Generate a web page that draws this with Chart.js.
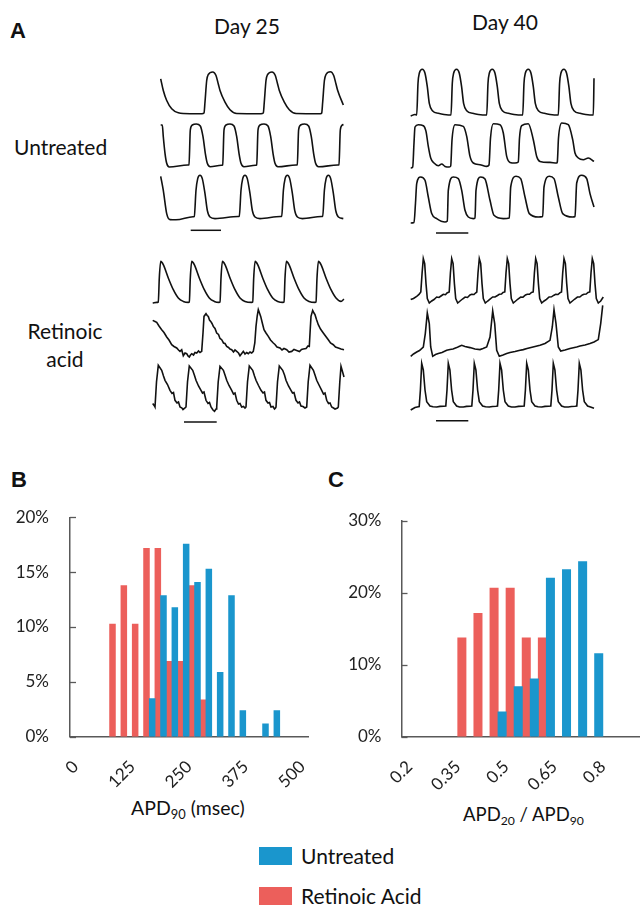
<!DOCTYPE html>
<html>
<head>
<meta charset="utf-8">
<script src="https://cdn.jsdelivr.net/npm/chart.js@4.4.1/dist/chart.umd.min.js"></script>
<style>
  body { margin: 0; width: 640px; height: 905px; overflow: hidden; position: relative; background: #fff; font-family: Lato, sans-serif; color: #111; }
  canvas { position: absolute; }
  .t { position: absolute; white-space: nowrap; line-height: 1; font-size: 21px; }
  .panel { position: absolute; line-height: 1; font-family: "Liberation Sans", Arial, sans-serif; font-weight: bold; font-size: 22px; }
  .sub { font-size: 0.66em; position: relative; top: 4px; }
  .sw { position: absolute; width: 33px; height: 18px; }
</style>
</head>
<body>
<div class="panel" style="left:10px;top:20px">A</div>
<div class="t" style="left:214px;top:15px">Day 25</div>
<div class="t" style="left:472px;top:11px">Day 40</div>
<div class="t" style="left:14px;top:136px">Untreated</div>
<div class="t" style="left:15px;top:317px;width:100px;text-align:center;line-height:27.6px">Retinoic<br>acid</div>

<div class="panel" style="left:11px;top:469px">B</div>
<div class="panel" style="left:328px;top:469px">C</div>
<div class="t" style="left:131px;top:798px;font-size:19.5px">APD<span class="sub">90</span> (msec)</div>
<div class="t" style="left:463px;top:805px;font-size:18.5px">APD<span class="sub">20</span> / APD<span class="sub">90</span></div>

<div class="sw" style="left:259px;top:847px;background:#1a96cd"></div>
<div class="t" style="left:301px;top:845px">Untreated</div>
<div class="sw" style="left:259px;top:887px;background:#ec5f5b"></div>
<div class="t" style="left:301px;top:885px">Retinoic Acid</div>

<script>
const blue = "#1a96cd";
const red = "#ec5f5b";

// panel B: APD90 histogram, 25 ms bins, % of cells
const binsB = ["0", "25", "50", "75", "100", "125", "150", "175", "200", "225", "250",
  "275", "300", "325", "350", "375", "400", "425", "450", "475", "500"];
const untreatedB = [0, 0, 0, 0, 0, 0, 0, 3.5, 12.9, 11.8, 17.6, 14.1, 15.3, 5.9, 12.9, 2.4, 0, 1.2, 2.4, 0, 0];
const retinoicB = [0, 0, 0, 10.3, 13.8, 10.3, 17.2, 17.2, 6.9, 6.9, 13.8, 3.4, 0, 0, 0, 0, 0, 0, 0, 0, 0];

// panel C: APD20 / APD90 histogram
const binsC = ["0.2", "0.25", "0.3", "0.35", "0.4", "0.45", "0.5", "0.55", "0.6", "0.65", "0.7", "0.75", "0.8", "0.85", "0.9"];
const untreatedC = [0, 0, 0, 0, 0, 0, 3.5, 7.0, 8.1, 22.1, 23.3, 24.4, 11.6, 0, 0];
const retinoicC = [0, 0, 0, 13.8, 17.2, 20.7, 20.7, 13.8, 13.8, 0, 0, 0, 0, 0, 0];

// panel A: voltage traces, [time, amplitude]
const d25u1 = [[10.7,35.2],[13.3,23.5],[16.7,13.5],[21.7,5.2],[28.3,1.2],[40,0.3],[52,0.3],[54,1],[55,12],[56.7,33.5],[58.3,39.5],[62.7,42],[66,38.5],[68.3,30],[70,23.5],[75,11.8],[80,4.2],[86.7,0.5],[111,0.3],[113.3,1],[114.3,12],[116,33.5],[117.6,39.5],[122,42],[125.3,38.5],[127.6,30],[129.3,23.5],[134.3,11.8],[139.3,4.2],[146,0.5],[170.5,0.3],[171.7,1],[172.7,12],[174.4,33.5],[176,39.5],[180.4,42.3],[183.7,38.5],[186,30],[187.7,23.5],[193.3,9]];
const d25u2 = [[10.7,42],[12.3,42],[13.3,30.3],[15,13.7],[16.7,3.7],[19.3,0],[37.7,2],[39,2.2],[40.3,37],[42.3,42],[46.3,43],[50.3,41],[53,30.3],[55.3,13.7],[57.3,3.7],[60.3,0.3],[71.3,1.8],[72.7,2.2],[74,37],[76,42],[80,43],[84,41],[86.7,30.3],[89,13.7],[91,3.7],[94,0.3],[105.3,1.8],[106.7,2.2],[108,37],[110,42],[114,43],[118,41],[120.7,30.3],[123,13.7],[125,3.7],[128,0.3],[146,2],[147.3,2.2],[148.6,37],[150.6,42],[154.6,43],[158.6,41],[161.3,30.3],[163.6,13.7],[165.6,3.7],[168.6,0.3],[187.6,2],[189,2.2],[190.3,37],[192.3,42],[193.5,42.5]];
const d25u3 = [[10.7,44.7],[13.3,30.7],[16.7,7.4],[20,1.4],[26,1.2],[43,4.3],[44.3,4.7],[46,30.7],[47.7,42.4],[50,45.7],[52.3,42.4],[55,27.4],[57.3,10.7],[60,4],[65,2.4],[88,4.5],[89.3,4.7],[91,30.7],[92.7,42.4],[95,45.7],[97.3,42.4],[100,27.4],[102.3,10.7],[105,4],[110,2.4],[130.4,4.5],[131.7,4.7],[133.4,30.7],[135.1,42.4],[137.4,45.7],[139.7,42.4],[142.4,27.4],[144.7,10.7],[147.4,4],[152.4,2.4],[171.4,4.5],[172.7,4.7],[174.4,30.7],[176.1,42.4],[178.4,45.7],[180.7,42.4],[183.4,27.4],[185.7,10.7],[188.4,4],[193.3,2.4]];

const d40u1 = [[5.7,0],[10,1.5],[11.7,1],[13,32.7],[14.3,42.7],[17.3,46.7],[20,42.7],[22.3,29.3],[24.3,12.7],[27.7,5],[33.3,2.7],[43.3,1],[46,1],[47.3,32.7],[48.6,42.7],[51.6,46.7],[54.3,42.7],[56.6,29.3],[58.6,12.7],[62,5],[67.6,2.7],[77.6,1],[81.7,1],[83,32.7],[84.3,42.7],[87.3,46.7],[90,42.7],[92.3,29.3],[94.3,12.7],[97.7,5],[103.3,2.7],[113.3,1],[117.7,1],[119,32.7],[120.3,42.7],[123.3,46.7],[126,42.7],[128.3,29.3],[130.3,12.7],[133.7,5],[139.3,2.7],[149.3,1],[153.3,1],[154.6,32.7],[155.9,42.7],[158.9,46.7],[161.6,42.7],[163.9,29.3],[165.9,12.7],[169.3,5],[174.9,2.7],[184.9,1],[188.3,1],[189,37.7]];
const d40u2 = [[5.7,0],[7.7,1],[9,25],[10,41],[13.3,43.3],[18.3,42.3],[21,36.6],[23.3,21.6],[25.7,10],[29,5],[33.3,2.3],[36.7,4],[40,1.6],[44.3,1],[45.7,2],[47,28],[50,43.3],[58.3,41.6],[61.7,31.6],[65,11.6],[68.3,5],[75,3.3],[81.7,1.6],[84,3],[85.5,30],[88.3,44.3],[95,43.3],[98.3,35],[101.7,11.6],[105,5.6],[110,5],[113.3,6],[114.5,30],[116.7,42.3],[123.3,44.3],[128.3,28.3],[131.7,11.6],[135,6.6],[145,5.6],[151.7,5],[152.3,6],[153.5,30],[156.7,45],[163.3,43.3],[167.7,28.3],[170,15],[173.3,10],[178.3,8.3],[183.3,10],[189,6.6]];
const d40u3 = [[5.7,0],[9,0.5],[10.5,20],[11.7,39.4],[15.7,46],[20,42.7],[23.3,26],[26.7,9.4],[31.7,4.4],[40,1],[42.3,2],[43.3,32.7],[48.3,46],[53.3,44.4],[56.7,32.7],[60,12.7],[63.3,6],[68.3,4.4],[70,5],[71,32.7],[75.7,46],[80,44],[85,22.7],[89,7.7],[98.3,4.4],[104.3,5],[105.7,36],[111,46.7],[115.7,44.4],[120,26],[124.3,9.4],[133.3,6],[137.7,6.5],[139,36],[144.3,46.7],[149,44.4],[153.3,26],[157.7,9.4],[167.7,6],[170,6.5],[171.7,40],[176.7,47.7],[181.7,44.4],[185,29.4],[189,16]];

const d25r1 = [[2.7,0],[6.7,0.6],[8.3,1],[9.3,25],[10.7,41.6],[13.3,38.3],[18.3,25],[23.3,13.3],[28.3,5],[33.3,1.6],[38.3,0.6],[39.3,1],[40.3,25],[41.7,41.6],[44.3,38.3],[49.3,25],[54.3,13.3],[59.3,5],[64.3,1.6],[69,0.6],[70,1],[71,25],[72.4,41.6],[75,38.3],[80,25],[85,13.3],[90,5],[95,1.6],[101.7,0.6],[102.7,1],[103.7,25],[105.1,41.6],[107.7,38.3],[112.7,25],[117.7,13.3],[122.7,5],[127.7,1.6],[133,0.6],[134,1],[135,25],[136.4,41.6],[139,38.3],[144,25],[149,13.3],[154,5],[159,1.6],[165,0.6],[166,1],[167,25],[168.4,41.6],[171,38.3],[176,25],[181,13.3],[186,5],[191,1.6],[194,4]];
const d25r2 = [[2.7,37.6],[5,36.5],[6.7,35.6],[9,32],[11.7,28.3],[14,25.5],[16.7,21],[19,18],[21.7,13.3],[24,11.5],[26.7,10],[28.5,8],[30,6.6],[31.7,8.3],[33.3,2.3],[35,5],[36.7,4.3],[38,2],[39.3,1],[40.5,3],[41.7,4.3],[43.5,3],[45,5.5],[46.7,5],[48.5,7],[50,5.5],[51.7,6.6],[53,25],[54,41.6],[56,44.3],[57.2,42.5],[58.3,41.6],[59.5,38],[60.7,36.6],[62,34.5],[63.3,31.6],[65,29.5],[66.7,25],[68.5,23.5],[70,19.5],[71.7,18.3],[73.5,15],[75,14.5],[76.7,11.6],[78.5,10.5],[80,9],[81.7,8.3],[83.5,6],[85,8],[86.7,6.6],[88.5,5],[90,2.3],[91.7,4.5],[93.3,6.6],[95,4],[96.7,5.5],[98.3,4.3],[100,6],[101.7,5],[103.3,6.6],[104.8,15],[106,31.6],[107.2,42],[108.3,48.3],[109.5,45],[110.7,41.6],[112.3,35],[114,28.3],[116,25],[118.3,21.6],[120.5,18],[123.3,15],[125,13.5],[127,11],[130,10],[132,8],[134,9.5],[136.7,8.3],[139,6],[141.7,6.6],[144,8.5],[146.7,7.6],[149.5,6.5],[151.5,8.5],[153.3,9],[156,9.5],[158,12],[159.3,11.6],[160.2,28],[161,41.6],[162.7,47.6],[164,45],[165,43.3],[166.5,38.5],[168.3,33.3],[170.5,29],[173.3,25],[175.5,22],[178.3,18.3],[180.5,15],[183.3,13.3],[185.5,11],[188.3,10],[191,9],[194,8.3]];
const d25r3 = [[2.7,8.4],[4.5,6],[5,5],[6.5,30],[8.3,46.7],[11.7,41.7],[13.5,36],[15,31.7],[17.5,27.5],[20,21.7],[22,18.5],[23.5,19.5],[25,11.7],[27,9],[28.5,10],[30,5],[32,4],[33,2.5],[35,4],[36,5],[37.5,30],[39.3,46],[42.7,41.7],[44.5,36.5],[46,31.7],[48.5,26],[51,21.7],[52.5,19],[54,20],[56,11.7],[58,8.5],[59.5,9.5],[61,5],[63,2],[64.5,0.7],[66,3],[66.7,5],[68.2,30],[70,45.7],[73.4,41.7],[75,37],[76.7,31.7],[79,26.5],[81.7,21.7],[83.5,18],[85,19],[86.7,11.7],[88.5,8],[90,8.5],[91.7,5],[93.5,5.5],[95,4],[96,5],[97.5,30],[99.3,46],[102.7,41.7],[104.5,36],[106,31.7],[108.5,26.5],[111,21.7],[113,19],[114.5,20],[116,11.7],[118,9],[119.5,9.5],[121,5],[123,5.5],[124.5,3],[125.5,4],[126,5],[127.5,30],[129.3,46],[132.7,41.7],[134.5,37],[136,31.7],[138.5,26],[141,21.7],[142.5,19],[144,19.5],[146,11.7],[148,9],[149.5,10],[151,6],[153,5.5],[155,4],[156.7,5],[158.2,30],[160,46.7],[163.4,41.7],[165,37],[166.7,31.7],[169,27],[171.7,21.7],[173.5,18],[175,19],[176.7,11.7],[178.5,8.5],[180,9],[181.7,5],[183.5,4],[185,3],[187.5,4],[188.3,5],[189.8,30],[191,45.7],[194,35]];

const d40r1 = [[5.7,3.4],[8.5,4.5],[11.7,6.7],[14,8.5],[15.8,11],[17.1,30],[18.3,44.4],[19.7,39.4],[21,19.4],[22.3,4.4],[24.3,0],[26.7,2],[29,3.5],[31.7,6],[34,5.5],[36.7,7.5],[38.3,8.7],[40.5,8.3],[42,10],[44.2,11],[45.4,30],[46.7,44.4],[48.1,39.4],[49.4,19.4],[50.7,4.4],[52.7,0],[55.1,2],[57.5,4],[60.1,6],[62.5,5.5],[65,8],[66.7,8.7],[69,8.5],[70.5,10],[71.8,11],[73,30],[74.3,44.4],[75.7,39.4],[77,19.4],[78.3,4.4],[80.3,0],[82.7,2],[85,3.8],[87.7,6],[90,6],[92.5,7.5],[94.3,8.7],[96.5,9],[98,10.5],[99.8,11],[101,30],[102.3,44.4],[103.7,39.4],[105,19.4],[106.3,4.4],[108.3,0],[110.7,2],[113,4],[115.7,6],[118,5.8],[120.5,8],[122.3,8.7],[124.5,8.7],[126.5,10.5],[128.2,11],[129.4,30],[130.7,44.4],[132.1,39.4],[133.4,19.4],[134.7,4.4],[136.7,0],[139.1,2],[141.5,3.6],[144.1,6],[146.5,6.2],[149,7.8],[150.7,8.7],[153,8.5],[154.8,10.2],[156.5,11],[157.7,30],[159,44.4],[160.4,39.4],[161.7,19.4],[163,4.4],[165,0],[167.4,2],[169.8,4],[172.4,6],[174.8,6],[177.3,8],[179,8.7],[181.2,9],[183,10.5],[184.8,11],[186,30],[187.3,44.4],[188.7,39.4],[190,19.4],[191.3,4.4],[193.3,0],[195.7,2],[198.3,6]];
const d40r2 = [[5.7,0.7],[8.5,3],[11.7,5],[14.5,6.5],[18.3,10],[20.3,23.4],[22.3,44],[24.3,33.4],[25.7,10],[27.7,0.7],[30.5,2.5],[33.3,3.4],[37,4.5],[41.7,6.7],[45,7.5],[48,8],[51.7,9.4],[54,10.5],[56.7,11.7],[60,10.5],[65,9.4],[70,8],[75,7.4],[78,8.5],[81.7,10],[85,20],[87.7,46],[89.7,33.4],[91.7,6.7],[94.3,0.7],[98,2],[101.7,3.4],[105,4.5],[110,5.5],[114,6.5],[118.3,7.4],[122,8.5],[126,9.5],[130,10.5],[135,11.7],[140,13.5],[145,16.7],[147.3,30],[149,47.4],[151,33.4],[153.3,10],[155.7,6],[160,7],[165,8.5],[171.7,10],[175,11],[180,12],[185,13.4],[189,15],[193.3,17.4],[195.7,33.4],[197.7,51.7]];
const d40r3 = [[5.7,0],[10,2.5],[13.3,3.3],[14.2,3.5],[15.4,20],[16.7,46.7],[18.3,40],[20,20],[21.7,8.3],[25,4],[28,3.2],[31.7,3],[35,3.6],[38.7,3.8],[40.8,4],[42,20],[43.3,46.7],[44.9,40],[46.6,20],[48.3,8.3],[51.6,4],[54.5,3],[58.3,3],[61.5,3.6],[65,3.8],[66.8,4],[68,20],[69.3,46.7],[70.9,40],[72.6,20],[74.3,8.3],[77.6,4],[80.5,3.2],[84.3,3],[87.5,3.5],[91,3.8],[92.5,4],[93.7,20],[95,46.7],[96.6,40],[98.3,20],[100,8.3],[103.3,4],[106.5,3],[110,3],[113.5,3.6],[117,3.8],[119.2,4],[120.4,20],[121.7,46.7],[123.3,40],[125,20],[126.7,8.3],[130,4],[133,3.2],[136.7,3],[140,3.6],[143.5,3.8],[145.8,4],[147,20],[148.3,46.7],[149.9,40],[151.6,20],[153.3,8.3],[156.6,4],[159.5,3],[163.3,3],[166.5,3.5],[170,3.8],[171.8,4],[173,20],[174.3,46.7],[175.9,40],[177.6,20],[179.3,8.3],[182.6,4],[185.5,3],[189,1.7]];

// 1 s scale bars under the third trace of each group
const barD25U = [[40.7,-9.3],[71,-9.3]];
const barD40U = [[31,-10],[63.3,-10]];
const barD25R = [[34,-10],[66.7,-10]];
const barD40R = [[31,-10.7],[63.3,-10.7]];

Chart.defaults.font.family = "Lato, sans-serif";
Chart.defaults.color = "#222";

const columns = { d25: { left: 150, width: 200 }, d40: { left: 405, width: 205 } };

const traces = [
  { data: d25u1, col: "d25", bottom: 113.5 },
  { data: d25u2, col: "d25", bottom: 167 },
  { data: d25u3, col: "d25", bottom: 220.7, bar: barD25U },
  { data: d40u1, col: "d40", bottom: 116 },
  { data: d40u2, col: "d40", bottom: 168.3 },
  { data: d40u3, col: "d40", bottom: 222.7, bar: barD40U },
  { data: d25r1, col: "d25", bottom: 303.3 },
  { data: d25r2, col: "d25", bottom: 358.3, noisy: true },
  { data: d25r3, col: "d25", bottom: 411.7, bar: barD25R, noisy: true },
  { data: d40r1, col: "d40", bottom: 302.7, noisy: true },
  { data: d40r2, col: "d40", bottom: 356.7, noisy: true },
  { data: d40r3, col: "d40", bottom: 410, bar: barD40R, noisy: true },
];

const makeCanvas = (left, top, width, height) => {
  const canvas = document.createElement("canvas");
  canvas.width = width;
  canvas.height = height;
  canvas.style.left = left + "px";
  canvas.style.top = top + "px";
  document.body.appendChild(canvas);
  return canvas;
};

const drawTrace = ({ data, col, bottom, bar, noisy }) => {
  const { left, width } = columns[col];
  const yMin = bar ? -13 : -3;
  const yMax = 53;
  const canvas = makeCanvas(left, Math.round(bottom - yMax), width, yMax - yMin);

  const datasets = [{
    data,
    borderColor: "#111",
    borderWidth: 1.6,
    pointRadius: 0,
    tension: 0,
    cubicInterpolationMode: noisy ? "default" : "monotone",
  }];
  if (bar) {
    datasets.push({ data: bar, borderColor: "#111", borderWidth: 1.5, pointRadius: 0 });
  }

  new Chart(canvas, {
    type: "line",
    data: { datasets },
    options: {
      animation: false,
      responsive: false,
      devicePixelRatio: 1,
      events: [],
      layout: { padding: 0 },
      plugins: { legend: { display: false }, tooltip: { enabled: false } },
      scales: {
        x: { type: "linear", display: false, min: 0, max: width },
        y: { display: false, min: yMin, max: yMax },
      },
    },
  });
};

traces.forEach(drawTrace);

// short inward tick marks on the y axis, as in the original figure
const innerTicks = {
  id: "innerTicks",
  afterDraw(chart) {
    const { ctx, chartArea, scales } = chart;
    ctx.save();
    ctx.strokeStyle = "#595959";
    ctx.lineWidth = 1.3;
    scales.y.ticks.forEach((tick) => {
      const py = Math.round(scales.y.getPixelForValue(tick.value)) + 0.5;
      ctx.beginPath();
      ctx.moveTo(chartArea.left, py);
      ctx.lineTo(chartArea.left + 6, py);
      ctx.stroke();
    });
    ctx.restore();
  },
};

// canvas starts at y=480 and ends at y=790; padding fixes the plot area
const drawHistogram = ({ left, width, labels, untreated, retinoic, max, step, every, yWidth, yPad, padding, barPct }) => {
  const canvas = makeCanvas(left, 480, width, 310);
  new Chart(canvas, {
    type: "bar",
    data: {
      labels,
      datasets: [
        { label: "Untreated", data: untreated, backgroundColor: blue },
        { label: "Retinoic Acid", data: retinoic, backgroundColor: red },
      ],
    },
    options: {
      animation: false,
      responsive: false,
      devicePixelRatio: 1,
      events: [],
      layout: { padding },
      datasets: { bar: { categoryPercentage: 1, barPercentage: barPct } },
      plugins: { legend: { display: false }, tooltip: { enabled: false } },
      scales: {
        x: {
          grid: { display: false },
          border: { display: true, color: "#595959", width: 1.5 },
          ticks: {
            autoSkip: false,
            minRotation: 45,
            maxRotation: 45,
            padding: 12,
            font: { size: 17 },
            callback: (value, index) => (index % every === 0 ? labels[index] : ""),
          },
          afterFit: (scale) => { scale.height = 53.3; },
        },
        y: {
          min: 0,
          max,
          grid: { display: false },
          border: { display: true, color: "#595959", width: 1.5 },
          ticks: { stepSize: step, padding: yPad, font: { size: 17 }, callback: (value) => value + "%" },
          afterFit: (scale) => { scale.width = yWidth; },
        },
      },
    },
    plugins: [innerTicks],
  });
};

drawHistogram({ left: 0, width: 338, labels: binsB, untreated: untreatedB, retinoic: retinoicB,
  max: 20, step: 5, every: 5, yWidth: 70, yPad: 13, padding: { top: 37.3, right: 30, left: 0, bottom: 0 }, barPct: 1.15 });
drawHistogram({ left: 320, width: 353, labels: binsC, untreated: untreatedC, retinoic: retinoicC,
  max: 30, step: 10, every: 3, yWidth: 81.5, yPad: 12, padding: { top: 41, right: 30, left: 0, bottom: 0 }, barPct: 1.12 });
</script>
</body>
</html>
